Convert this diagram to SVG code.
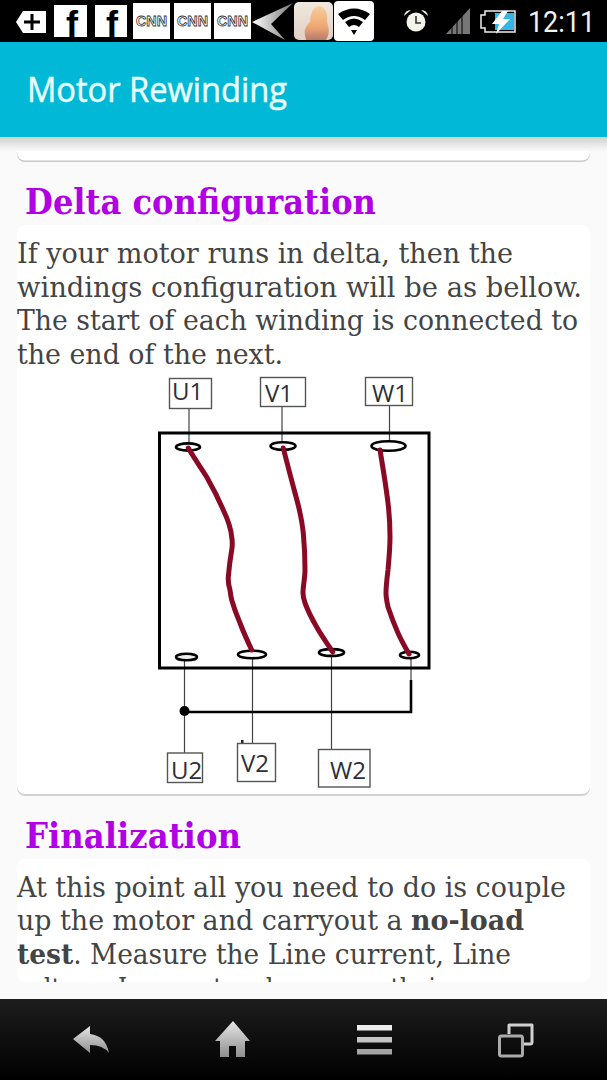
<svg xmlns="http://www.w3.org/2000/svg" width="607" height="1080" viewBox="0 0 607 1080">
<style>
.body{font-family:"DejaVu Serif","Liberation Serif",serif;font-stretch:condensed;font-size:28px;fill:#444}
.h{font-family:"DejaVu Serif","Liberation Serif",serif;font-stretch:condensed;font-weight:700;font-size:36px;fill:#b200e6}
.box{fill:#fff;stroke:#555;stroke-width:1.4}
.wire{fill:none;stroke:#444;stroke-width:1.2}
.lbl{font-family:"Open Sans","Noto Sans",sans-serif;font-size:24px;fill:#2b3038}
.term{fill:#fff;stroke:#000;stroke-width:2.6}
.coil{fill:none;stroke:#8a0a26;stroke-width:5;stroke-linejoin:round;stroke-linecap:round}
.cnnb{fill:#fff}
.cnn{font-family:"Liberation Sans",Arial,sans-serif;font-weight:700;font-size:15px;fill:none;stroke:#333;stroke-width:0.8}
.f{font-family:"Liberation Sans",Arial,sans-serif;font-weight:700;font-size:36px;fill:#000}
</style>
<defs>
<linearGradient id="nav" x1="0" y1="0" x2="0" y2="1"><stop offset="0" stop-color="#1d1d1d"/><stop offset="1" stop-color="#000"/></linearGradient>
<linearGradient id="ico" x1="0" y1="0" x2="0" y2="1"><stop offset="0" stop-color="#e6e6e6"/><stop offset="1" stop-color="#8e8e8e"/></linearGradient>
<linearGradient id="hs" x1="0" y1="0" x2="0" y2="1"><stop offset="0" stop-color="#d0d0d0"/><stop offset="1" stop-color="#fafafa"/></linearGradient>
<linearGradient id="ph" x1="0" y1="0" x2="0" y2="1"><stop offset="0" stop-color="#efe9e0"/><stop offset="1" stop-color="#e0cfc4"/></linearGradient>
<linearGradient id="hair" x1="0" y1="0" x2="0" y2="1"><stop offset="0" stop-color="#f6cf9c"/><stop offset="0.6" stop-color="#efa873"/><stop offset="1" stop-color="#b87a6c"/></linearGradient>
<linearGradient id="arr" x1="0" y1="0" x2="1" y2="0"><stop offset="0" stop-color="#fff"/><stop offset="1" stop-color="#777"/></linearGradient>
<clipPath id="cardclip"><rect x="0" y="859" width="607" height="123"/></clipPath>
</defs>

<rect width="607" height="1080" fill="#fafafa"/>

<g id="page-top-card">
<rect x="17" y="140" width="573" height="22" rx="8" fill="#c9c9c9"/>
<rect x="17" y="138" width="573" height="22.500" rx="8" fill="#fff"/>
</g>
<rect x="0" y="137" width="607" height="14" fill="url(#hs)"/>

<g id="status-bar">
<rect width="607" height="42" fill="#000"/>
<path d="M16 22 L23 11 H46 V33 H23 Z" fill="#fff"/>
<path d="M24 22 H40 M32 14 V30" stroke="#000" stroke-width="3" fill="none"/>
<rect x="54" y="5" width="33" height="32" fill="#fff"/>
<text class="f" x="66" y="37">f</text>
<rect x="95" y="5" width="32" height="32" fill="#fff"/>
<text class="f" x="106" y="37">f</text>
<rect class="cnnb" x="133" y="3" width="37" height="36"/>
<text class="cnn" x="136" y="26" textLength="31" lengthAdjust="spacingAndGlyphs">CNN</text>
<rect class="cnnb" x="174" y="3" width="37" height="36"/>
<text class="cnn" x="177" y="26" textLength="31" lengthAdjust="spacingAndGlyphs">CNN</text>
<rect class="cnnb" x="214" y="3" width="37" height="36"/>
<text class="cnn" x="217" y="26" textLength="31" lengthAdjust="spacingAndGlyphs">CNN</text>
<path d="M252 22 L293 3 L271 24 L285 40 Z" fill="url(#arr)"/>
<rect x="294" y="2" width="39" height="38" rx="5" fill="url(#ph)"/>
<path d="M306 40 Q302 28 310 22 Q311 6 320 6 Q328 8 327 22 Q331 32 326 40 Z" fill="url(#hair)"/>
<rect x="334" y="1" width="40" height="40" rx="4" fill="#fff"/>
<path d="M338 14 Q354 3 370 14 L365 20 Q354 12 343 20 Z M345 22 Q354 15 363 22 L359 27 Q354 23 349 27 Z M351 30 H357 L354 35 Z" fill="#000"/>
<circle cx="416" cy="22" r="9.500" fill="#f3f3ea"/>
<path d="M416 16 V23 H421" fill="none" stroke="#333" stroke-width="1.600"/>
<path d="M404 16 Q405 10 411 10 Z M428 16 Q427 10 421 10 Z" fill="#f3f3ea"/>
<path d="M446 34 L470 8 V34 Z" fill="#777"/>
<path d="M452 34 V26 M457 34 V21 M462 34 V15" stroke="#000" stroke-width="1"/>
<path d="M481 15 H485 V11 H515 V32 H485 V28 H481 Z" fill="#000" stroke="#eee" stroke-width="1.500"/>
<rect x="495" y="13" width="19" height="17" fill="#33b5e5"/>
<path d="M502 11 L492 24 H499 L496 34 L510 19 H503 L508 11 Z" fill="#fff"/>
<text x="528" y="32" font-family="Roboto,'Noto Sans',sans-serif" font-size="29" fill="#f2f2f2" textLength="67" lengthAdjust="spacingAndGlyphs">12:11</text>
</g>

<g id="header">
<rect y="42" width="607" height="95" fill="#01b9d6"/>
<text x="27" y="102" font-family="'Open Sans','Noto Sans',sans-serif" font-size="35" fill="#eaffff" stroke="#eaffff" stroke-width="0.5" textLength="260" lengthAdjust="spacingAndGlyphs">Motor Rewinding</text>
</g>

<text class="h" x="25" y="214" textLength="351" lengthAdjust="spacingAndGlyphs">Delta configuration</text>

<g id="card-delta">
<rect x="17" y="226" width="573" height="570" rx="8" fill="#d2d2d2"/>
<rect x="17" y="225" width="573" height="569" rx="8" fill="#fff"/>
<text class="body" x="17" y="263" textLength="496" lengthAdjust="spacingAndGlyphs">If your motor runs in delta, then the</text>
<text class="body" x="17" y="297" textLength="565" lengthAdjust="spacingAndGlyphs">windings configuration will be as bellow.</text>
<text class="body" x="17" y="330" textLength="561" lengthAdjust="spacingAndGlyphs">The start of each winding is connected to</text>
<text class="body" x="17" y="364" textLength="266" lengthAdjust="spacingAndGlyphs">the end of the next.</text>
</g>

<g id="connectors">
<path class="wire" d="M189 408 V445"/>
<path class="wire" d="M282 406 V443"/>
<path class="wire" d="M389.500 405 V441"/>
<path class="wire" d="M184.500 660 V753"/>
<path class="wire" d="M252.500 659 V744"/>
<path class="wire" d="M331.500 656 V749"/>
<path class="wire" d="M411 659 V680"/>
<path d="M411 680 V712 H184" fill="none" stroke="#000" stroke-width="2.600"/>
<circle cx="184.500" cy="711" r="5" fill="#000"/>
<rect x="241" y="740" width="2.500" height="4" fill="#222"/>
</g>

<g id="motor-frame">
<rect x="159.500" y="433" width="269.500" height="235" fill="none" stroke="#000" stroke-width="3"/>
</g>

<g id="terminal-U1"><ellipse class="term" cx="188" cy="447" rx="12" ry="3.600"/></g>
<g id="terminal-V1"><ellipse class="term" cx="283" cy="446" rx="12.500" ry="3.800"/></g>
<g id="terminal-W1"><ellipse class="term" cx="388.500" cy="446" rx="17" ry="4.800"/></g>
<g id="terminal-U2"><ellipse class="term" cx="186.500" cy="657" rx="10.500" ry="3.200" style="fill:#eee"/></g>
<g id="terminal-V2"><ellipse class="term" cx="252" cy="654.500" rx="14" ry="3.800"/></g>
<g id="terminal-W2"><ellipse class="term" cx="331.500" cy="652.500" rx="12.500" ry="3.400"/></g>
<g id="terminal-N"><ellipse class="term" cx="409.500" cy="655" rx="9.500" ry="3.300"/></g>

<g id="coil-U">
<path class="coil" d="M188.300 448 C194 458 200 466 206.700 477 C213 488 219 500 223.300 510 C228 520 231 528 231.700 537 C232.500 542 232.500 546 231.700 550 C230 560 229 568 228.300 577 C228 583 229 587 230 590 C230.500 594 231 597 231.700 600 C234 608 237 616 240 623 C243 631 247 640 251.700 650"/>
</g>
<g id="coil-V">
<path class="coil" d="M283.300 448 C287 463 291 478 295 493 C299 507 302 520 303.300 533 C304.500 546 305 558 305 570 C305 578 303 586 303 593 C303 597 304 600 305 603 C308 611 312 619 316.700 627 C321 635 327 643 332.700 652"/>
</g>
<g id="coil-W">
<path class="coil" d="M380 450 C383 468 386 486 388 503 C389.500 515 390 526 390 537 C390 548 389 559 388 570 C387 578 386 586 386 593 C386 598 387 602 388 607 C391 616 394 624 398 633 C401 640 405 647 409 654"/>
</g>

<g id="label-U1"><rect class="box" x="169.500" y="378.500" width="42" height="30"/><text class="lbl" x="172" y="400">U1</text></g>
<g id="label-V1"><rect class="box" x="260.500" y="377.500" width="45" height="29"/><text class="lbl" x="265" y="402">V1</text></g>
<g id="label-W1"><rect class="box" x="365.500" y="377.500" width="47" height="28"/><text class="lbl" x="372" y="402" textLength="36" lengthAdjust="spacingAndGlyphs">W1</text></g>
<g id="label-U2"><rect class="box" x="167.500" y="753" width="35" height="29.500"/><text class="lbl" x="171" y="779">U2</text></g>
<g id="label-V2"><rect class="box" x="237.500" y="743.500" width="38" height="38"/><text class="lbl" x="241" y="772">V2</text></g>
<g id="label-W2"><rect class="box" x="318.500" y="749.500" width="51.500" height="37.500"/><text class="lbl" x="330" y="779" textLength="36" lengthAdjust="spacingAndGlyphs">W2</text></g>

<text class="h" x="25" y="848" textLength="216" lengthAdjust="spacingAndGlyphs">Finalization</text>

<g id="card-finalization">
<rect x="17" y="859" width="573" height="123" rx="8" fill="#fff"/>
<text class="body" x="17" y="897" textLength="549" lengthAdjust="spacingAndGlyphs">At this point all you need to do is couple</text>
<text class="body" x="17" y="930" textLength="507" lengthAdjust="spacingAndGlyphs">up the motor and carryout a <tspan font-weight="700">no-load</tspan></text>
<text class="body" x="17" y="964" textLength="494" lengthAdjust="spacingAndGlyphs"><tspan font-weight="700">test</tspan>. Measure the Line current, Line</text>
<g clip-path="url(#cardclip)"><text class="body" x="17" y="998" textLength="430" lengthAdjust="spacingAndGlyphs">voltage, I current and compare their</text></g>
</g>

<g id="nav-bar">
<rect y="999" width="607" height="81" fill="url(#nav)"/>
<path d="M73 1039 L90 1026 V1034 Q106 1036 109 1053 Q103 1045 90 1045 V1053 Z" fill="url(#ico)"/>
<path d="M233 1021 L250 1041 H245 V1057 H236 V1046 H229 V1057 H220 V1041 H215 Z" fill="url(#ico)"/>
<rect x="357" y="1025" width="35" height="5.500" fill="#eee"/>
<rect x="357" y="1037" width="35" height="5.500" fill="#c4c4c4"/>
<rect x="357" y="1049" width="35" height="5.500" fill="#a4a4a4"/>
<path d="M509 1034 V1025 H532 V1042 Q532 1044 530 1044 H524" fill="none" stroke="#d0d0d0" stroke-width="3" stroke-linejoin="round"/>
<rect x="499.500" y="1036" width="23" height="20" rx="2" fill="none" stroke="#aaa" stroke-width="3"/>
</g>
</svg>
